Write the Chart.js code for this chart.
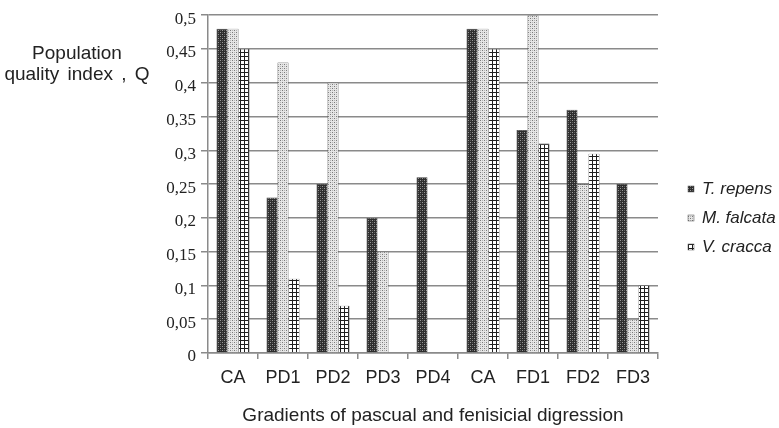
<!DOCTYPE html>
<html>
<head>
<meta charset="utf-8">
<script src="https://cdn.jsdelivr.net/npm/chart.js@4.4.0/dist/chart.umd.min.js"></script>
<style>
  html, body { margin: 0; padding: 0; background: #fff; }
  #wrap { position: relative; width: 779px; height: 428px; }
  #yTitle {
    position: absolute; left: 2px; top: 42px; width: 150px;
    font-family: "Liberation Sans", Arial, sans-serif; font-size: 19px;
    line-height: 21px; text-align: center; color: #222; word-spacing: 3px;
  }
</style>
</head>
<body>
<div id="wrap">
  <canvas id="qualityChart" width="779" height="428"></canvas>
  <div id="yTitle">Population<br>quality index , Q</div>
</div>
<script>
// categories and values
const categories = ['CA', 'PD1', 'PD2', 'PD3', 'PD4', 'CA', 'FD1', 'FD2', 'FD3'];
const seriesNames = ['T. repens', 'M. falcata', 'V. cracca'];
const tRepens = [0.48, 0.23, 0.25, 0.20, 0.26, 0.48, 0.33, 0.36, 0.25];
const mFalcata = [0.48, 0.43, 0.40, 0.15, 0, 0.48, 0.50, 0.25, 0.05];
const vCracca = [0.45, 0.11, 0.07, 0, 0, 0.45, 0.31, 0.295, 0.10];
const yTicks = [0, 0.05, 0.1, 0.15, 0.2, 0.25, 0.3, 0.35, 0.4, 0.45, 0.5];

// hatch fills like the old excel print
function makePattern(kind) {
    const c = document.createElement('canvas');
    c.width = 4; c.height = 4;
    const g = c.getContext('2d');
    if (kind === 'dark') {
        g.fillStyle = '#2e2e2e';
        g.fillRect(0, 0, 4, 4);
        g.fillStyle = '#9a9a9a';
        g.fillRect(0, 0, 1, 1);
        g.fillRect(2, 2, 1, 1);
        g.fillStyle = '#5e5e5e';
        g.fillRect(2, 0, 1, 1);
        g.fillRect(0, 2, 1, 1);
    } else if (kind === 'dots') {
        g.fillStyle = '#e6e6e6';
        g.fillRect(0, 0, 4, 4);
        g.fillStyle = '#7a7a7a';
        g.fillRect(0, 0, 1, 1);
        g.fillRect(2, 2, 1, 1);
        g.fillStyle = '#b4b4b4';
        g.fillRect(2, 0, 1, 1);
        g.fillRect(0, 2, 1, 1);
    } else {
        g.fillStyle = '#ffffff';
        g.fillRect(0, 0, 4, 4);
        g.fillStyle = '#1e1e1e';
        g.fillRect(0, 0, 4, 1);
        g.fillRect(0, 0, 1, 4);
    }
    return document.getElementById('qualityChart').getContext('2d').createPattern(c, 'repeat');
}

const fills = [makePattern('dark'), makePattern('dots'), makePattern('grid')];

function fmtTick(v) {
    if (v === 0) return '0';
    return parseFloat(v.toFixed(2)).toString().replace('.', ',');
}

// legend drawn by hand so it sits where the original one is
const sideLegend = {
    id: 'sideLegend',
    afterDraw(chart) {
        const ctx = chart.ctx;
        ctx.save();
        ctx.font = 'italic 17px "Liberation Sans", Arial, sans-serif';
        ctx.textBaseline = 'middle';
        chart.data.datasets.forEach((ds, i) => {
            const y = 189 + i * 29;
            ctx.fillStyle = ds.backgroundColor;
            ctx.fillRect(688, y - 3, 6, 6);
            ctx.strokeStyle = '#555';
            ctx.lineWidth = 0.5;
            ctx.strokeRect(688, y - 3, 6, 6);
            ctx.fillStyle = '#222';
            ctx.fillText(ds.label, 702, y);
        });
        ctx.restore();
    }
};

new Chart(document.getElementById('qualityChart'), {
    type: 'bar',
    data: {
        labels: categories,
        datasets: [
            { label: seriesNames[0], data: tRepens, backgroundColor: fills[0] },
            { label: seriesNames[1], data: mFalcata, backgroundColor: fills[1] },
            { label: seriesNames[2], data: vCracca, backgroundColor: fills[2] }
        ]
    },
    options: {
        responsive: false,
        animation: false,
        devicePixelRatio: 1,
        layout: { padding: { left: 0, right: 121, top: 13, bottom: 0 } },
        datasets: {
            bar: {
                categoryPercentage: 0.66,
                barPercentage: 1,
                borderColor: '#3a3a3a',
                borderWidth: 0.6
            }
        },
        plugins: {
            legend: { display: false },
            tooltip: { enabled: false }
        },
        scales: {
            x: {
                grid: { display: true, drawOnChartArea: false, color: '#8a8a8a', lineWidth: 1.5, tickLength: 6 },
                border: { color: '#8a8a8a', width: 1.5 },
                ticks: {
                    padding: 8,
                    color: '#222',
                    font: { family: '"Liberation Sans", Arial, sans-serif', size: 18 }
                },
                title: {
                    display: true,
                    text: 'Gradients of pascual and fenisicial digression',
                    color: '#222',
                    font: { family: '"Liberation Sans", Arial, sans-serif', size: 19 },
                    padding: { top: 4, bottom: 1 }
                },
                afterFit: s => { s.height = 75; }
            },
            y: {
                min: 0,
                max: 0.5,
                afterBuildTicks: s => { s.ticks = yTicks.map(v => ({ value: v })); },
                grid: { color: '#8a8a8a', lineWidth: 1.5, tickLength: 7 },
                border: { color: '#8a8a8a', width: 1.5 },
                ticks: {
                    padding: 5,
                    labelOffset: 4,
                    color: '#222',
                    font: { family: '"Liberation Serif", "Times New Roman", serif', size: 17 },
                    callback: v => fmtTick(v)
                },
                afterFit: s => { s.width = 208; }
            }
        }
    },
    plugins: [sideLegend]
});
</script>
</body>
</html>
